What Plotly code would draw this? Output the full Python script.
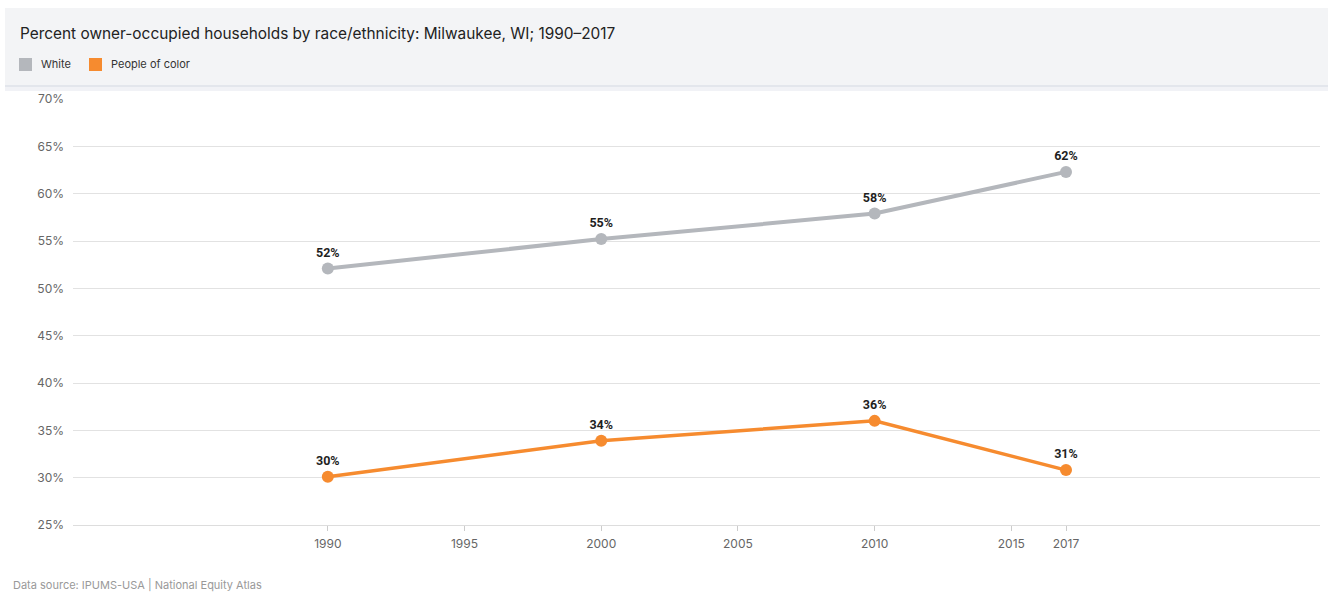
import plotly.graph_objects as go

# Data
years = [1990, 2000, 2010, 2017]
white = [52.1, 55.2, 57.9, 62.3]
people_of_color = [30.1, 33.9, 36.0, 30.8]
x_ticks = [1990, 1995, 2000, 2005, 2010, 2015, 2017]
y_ticks = [25, 30, 35, 40, 45, 50, 55, 60, 65, 70]

WHITE_COLOR = "#b4b7bc"
POC_COLOR = "#f68b2f"

FIG_W, FIG_H = 1328, 592
L, R, T, B = 73, 8, 99, 67
PW = FIG_W - L - R
PH = FIG_H - T - B


def px(x):
    return (x - L) / PW


def py(y):
    return (FIG_H - B - y) / PH


fig = go.Figure()

for name, vals, color, width in [
    ("White", white, WHITE_COLOR, 4),
    ("People of color", people_of_color, POC_COLOR, 3.5),
]:
    fig.add_trace(go.Scatter(
        x=years, y=vals, name=name, mode="lines+markers+text",
        line=dict(color=color, width=width),
        marker=dict(color=color, size=12),
        text=[f"<b>{round(v)}%</b>" for v in vals],
        textposition="top center",
        textfont=dict(family="Roboto", size=12.5, color="#1f1f1f"),
        cliponaxis=False,
        showlegend=False,
        hoverinfo="skip",
    ))

shapes = [
    # header panel
    dict(type="rect", xref="paper", yref="paper", x0=px(5), x1=px(1328), y0=py(85), y1=py(8),
         fillcolor="#f3f4f6", line=dict(width=0), layer="below"),
    dict(type="rect", xref="paper", yref="paper", x0=px(5), x1=px(1328), y0=py(87), y1=py(85),
         fillcolor="#e3e6ec", line=dict(width=0), layer="below"),
    dict(type="rect", xref="paper", yref="paper", x0=px(5), x1=px(1328), y0=py(91), y1=py(87),
         fillcolor="#f1f2f6", line=dict(width=0), layer="below"),
    # legend swatches
    dict(type="rect", xref="paper", yref="paper", x0=px(19), x1=px(32), y0=py(71), y1=py(58),
         fillcolor=WHITE_COLOR, line=dict(width=0)),
    dict(type="rect", xref="paper", yref="paper", x0=px(89), x1=px(102), y0=py(71), y1=py(58),
         fillcolor=POC_COLOR, line=dict(width=0)),
]

annotations = [
    dict(text="Percent owner-occupied households by race/ethnicity: Milwaukee, WI; 1990–2017",
         xref="paper", yref="paper", x=px(18), y=py(33), xanchor="left", yanchor="middle",
         showarrow=False, font=dict(family="Inter", size=15.4, color="#222222")),
    dict(text="White", xref="paper", yref="paper", x=px(39), y=py(64), xanchor="left",
         yanchor="middle", showarrow=False, font=dict(family="Inter", size=11, color="#333333")),
    dict(text="People of color", xref="paper", yref="paper", x=px(109), y=py(64), xanchor="left",
         yanchor="middle", showarrow=False, font=dict(family="Inter", size=11, color="#333333")),
    dict(text="Data source: IPUMS-USA | National Equity Atlas", xref="paper", yref="paper",
         x=px(11), y=py(576), xanchor="left", yanchor="top", showarrow=False,
         font=dict(family="Inter", size=11, color="#999999")),
]

fig.update_layout(
    width=FIG_W, height=FIG_H,
    margin=dict(l=L, r=R, t=T, b=B, pad=0),
    paper_bgcolor="white", plot_bgcolor="white",
    shapes=shapes, annotations=annotations,
    font=dict(family="Inter", color="#666666"),
    xaxis=dict(
        range=[1980.68, 2026.29], tickvals=x_ticks, ticktext=[str(v) for v in x_ticks],
        showgrid=False, zeroline=False, showline=True, linecolor="#dddddd", linewidth=1,
        ticks="outside", ticklen=5, tickcolor="#cccccc",
        tickfont=dict(family="Inter", size=12, color="#666666"),
        ticklabelstandoff=3,
    ),
    yaxis=dict(
        range=[25, 70], tickvals=y_ticks, ticktext=[f"{v}%" for v in y_ticks],
        showgrid=True, gridcolor="#e2e2e2", gridwidth=1, zeroline=False, showline=False,
        tickfont=dict(family="Inter", size=12, color="#666666"),
        ticklabelstandoff=8,
    ),
)

fig.write_html("out.html")
